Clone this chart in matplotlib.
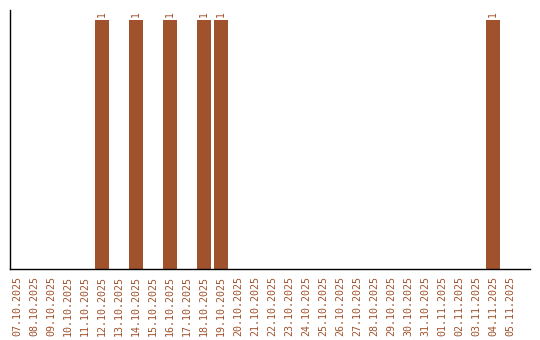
import matplotlib
matplotlib.use("Agg")
import matplotlib.pyplot as plt

dates = ['07.10.2025', '08.10.2025', '09.10.2025', '10.10.2025', '11.10.2025',
         '12.10.2025', '13.10.2025', '14.10.2025', '15.10.2025', '16.10.2025',
         '17.10.2025', '18.10.2025', '19.10.2025', '20.10.2025', '21.10.2025',
         '22.10.2025', '23.10.2025', '24.10.2025', '25.10.2025', '26.10.2025',
         '27.10.2025', '28.10.2025', '29.10.2025', '30.10.2025', '31.10.2025',
         '01.11.2025', '02.11.2025', '03.11.2025', '04.11.2025', '05.11.2025']
counts = [0, 0, 0, 0, 0,
          1, 0, 1, 0, 1,
          0, 1, 1, 0, 0,
          0, 0, 0, 0, 0,
          0, 0, 0, 0, 0,
          0, 0, 0, 1, 0]

brown = '#a0522d'

fig = plt.figure(figsize=(5.4, 3.4), dpi=100)
ax = fig.add_axes([0.0194, 0.2074, 0.9626, 0.7632])

x = list(range(len(dates)))
ax.bar(x, counts, width=0.82, color=brown)

# value labels above the non-empty bars
for xi, c in zip(x, counts):
    if c > 0:
        ax.annotate(str(c), (xi, c), xytext=(0, 2), textcoords='offset points',
                    rotation=90, ha='center', va='bottom', color=brown,
                    fontsize=7, family='DejaVu Sans Mono')

ax.set_xlim(-0.38, 30.2)
ax.set_ylim(0, 1.04)
ax.set_xticks(x)
ax.set_xticklabels(dates, rotation=90, color=brown, fontsize=7.2,
                   family='DejaVu Sans Mono', va='top')
ax.tick_params(axis='x', length=0, pad=5)
ax.set_yticks([])

for side in ['top', 'right']:
    ax.spines[side].set_visible(False)
for side in ['left', 'bottom']:
    ax.spines[side].set_linewidth(1.0)
    ax.spines[side].set_color('black')

fig.savefig('out.png', dpi=100)
